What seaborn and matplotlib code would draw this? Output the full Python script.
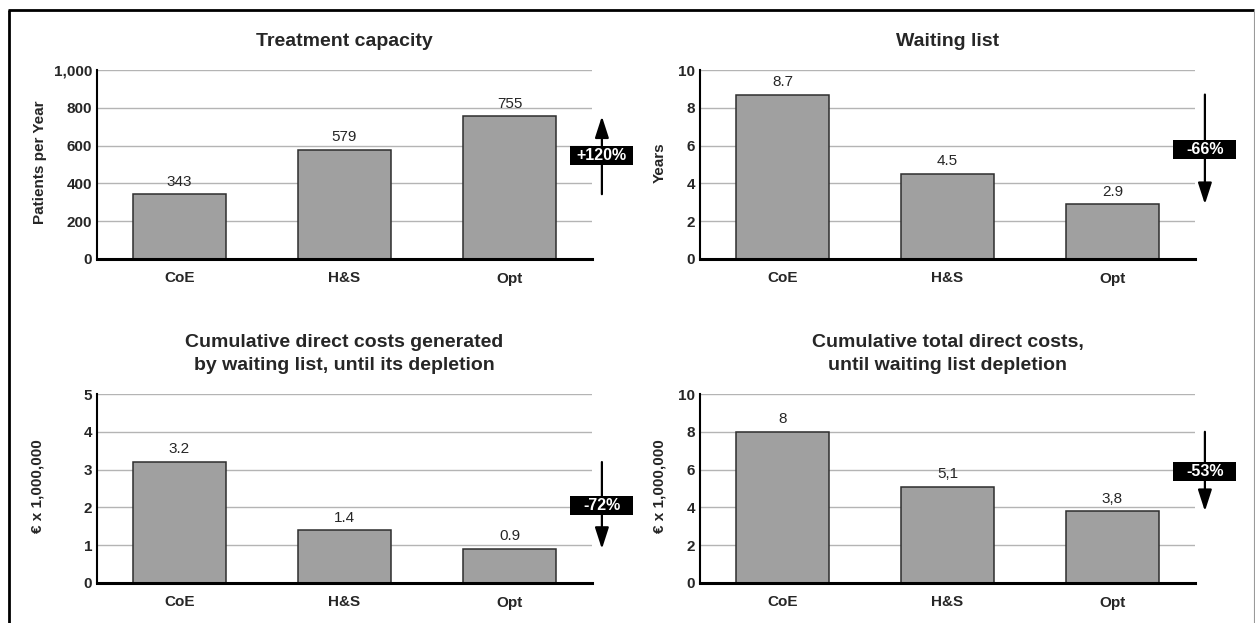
import matplotlib
matplotlib.use("Agg")
import matplotlib.pyplot as plt
import seaborn as sns
import pandas as pd
from matplotlib.lines import Line2D
from matplotlib.patches import Rectangle
from matplotlib.ticker import FixedLocator, FuncFormatter

# ---- data -------------------------------------------------------------
categories = ["CoE", "H&S", "Opt"]

capacity = [343, 579, 755]
capacity_labels = ["343", "579", "755"]

waiting_years = [8.7, 4.5, 2.9]
waiting_labels = ["8.7", "4.5", "2.9"]

waitlist_costs = [3.2, 1.4, 0.9]
waitlist_cost_labels = ["3.2", "1.4", "0.9"]

total_costs = [8.0, 5.1, 3.8]
total_cost_labels = ["8", "5,1", "3,8"]

titles = [
    "Treatment capacity",
    "Waiting list",
    "Cumulative direct costs generated\nby waiting list, until its depletion",
    "Cumulative total direct costs,\nuntil waiting list depletion",
]
ylabels = ["Patients per Year", "Years", "€ x 1,000,000", "€ x 1,000,000"]
y_max = [1000, 10, 5, 10]
y_step = [200, 2, 1, 2]
changes = ["+120%", "-66%", "-72%", "-53%"]

series = [capacity, waiting_years, waitlist_costs, total_costs]
series_labels = [capacity_labels, waiting_labels, waitlist_cost_labels, total_cost_labels]

# ---- style ------------------------------------------------------------
sns.set_style("white")
plt.rcParams["font.family"] = ["Liberation Sans", "DejaVu Sans"]

BAR = "#a0a0a0"
EDGE = "#2e2e2e"
GRID = "#b4b4b4"

W, H = 1255, 623
fig = plt.figure(figsize=(W / 100, H / 100), dpi=100)


def px_box(left, top, right, bottom):
    return [left / W, 1 - bottom / H, (right - left) / W, (bottom - top) / H]


positions = [
    px_box(97, 70, 592, 259),
    px_box(700, 70, 1195, 259),
    px_box(97, 394, 592, 583),
    px_box(700, 394, 1195, 583),
]
ylabel_x = [-0.115, -0.081, -0.120, -0.081]

for i in range(4):
    ax = fig.add_axes(positions[i])
    vals = series[i]
    df = pd.DataFrame({"group": categories, "value": vals})
    sns.barplot(data=df, x="group", y="value", ax=ax, color=BAR, saturation=1,
                edgecolor=EDGE, linewidth=1.1, width=0.565, errorbar=None,
                zorder=3)

    top = y_max[i]
    ax.set_xlim(-0.5, 2.5)
    ax.set_ylim(0, top)
    ticks = list(range(0, top + 1, y_step[i]))
    ax.yaxis.set_major_locator(FixedLocator(ticks))
    ax.yaxis.set_major_formatter(FuncFormatter(lambda v, p: f"{v:,.0f}"))
    ax.yaxis.grid(True, color=GRID, linewidth=1.0)
    ax.set_axisbelow(True)

    for side in ("top", "right"):
        ax.spines[side].set_visible(False)
    ax.spines["left"].set_linewidth(1.5)
    ax.spines["left"].set_color("black")
    ax.spines["bottom"].set_linewidth(2.2)
    ax.spines["bottom"].set_color("black")
    ax.spines["bottom"].set_zorder(4)

    ax.tick_params(axis="y", length=0, pad=3.5, labelsize=11)
    ax.tick_params(axis="x", which="major", length=0, pad=9, labelsize=11)
    ax.xaxis.set_minor_locator(FixedLocator([0.5, 1.5, 2.5]))
    ax.tick_params(axis="x", which="minor", direction="in", length=4,
                   width=1, color="#777777")
    for lbl in ax.get_xticklabels() + ax.get_yticklabels():
        lbl.set_fontweight("bold")

    ax.set_xlabel("")
    ax.set_ylabel(ylabels[i], fontsize=11, fontweight="bold")
    ax.yaxis.label.set_va("center")
    ax.yaxis.set_label_coords(ylabel_x[i], 0.51)
    ttl = ax.set_title(titles[i], fontsize=14, fontweight="bold", pad=17)
    ttl.set_linespacing(1.5)

    # value labels above bars
    for bar, lab in zip(ax.patches, series_labels[i]):
        ax.annotate(lab, (bar.get_x() + bar.get_width() / 2, bar.get_height()),
                    xytext=(0, 4), textcoords="offset points",
                    ha="center", va="bottom", fontsize=11)

    # change arrow from first to last group
    ax_x = 2.56
    ax.annotate("", xy=(ax_x, vals[-1]), xytext=(ax_x, vals[0]),
                arrowprops=dict(arrowstyle="-|>,head_length=1.3,head_width=0.42",
                                mutation_scale=10, color="black", lw=1.6,
                                shrinkA=0, shrinkB=0),
                annotation_clip=False, zorder=5)
    mid = (vals[0] + vals[-1]) / 2
    bw = 63 / 165
    bh = top * 19 / 189
    ax.add_patch(Rectangle((ax_x - bw / 2, mid - bh / 2), bw, bh,
                           facecolor="black", edgecolor="none",
                           clip_on=False, zorder=6))
    ax.text(ax_x, mid, changes[i], color="white", fontsize=11.5,
            fontweight="bold", ha="center", va="center", zorder=7,
            clip_on=False)

# frame around the figure
fig.add_artist(Line2D([8.5 / W, 8.5 / W], [0, 1 - 9.5 / H], color="black",
                      lw=2.0, transform=fig.transFigure,
                      solid_capstyle="butt"))
fig.add_artist(Line2D([7.5 / W, 1254 / W], [1 - 9.5 / H, 1 - 9.5 / H],
                      color="black", lw=2.0, transform=fig.transFigure,
                      solid_capstyle="butt"))
fig.add_artist(Line2D([1253.5 / W, 1253.5 / W], [0, 1 - 9.5 / H],
                      color="#9a9a9a", lw=0.8, transform=fig.transFigure))

fig.savefig("out.png", dpi=100)
